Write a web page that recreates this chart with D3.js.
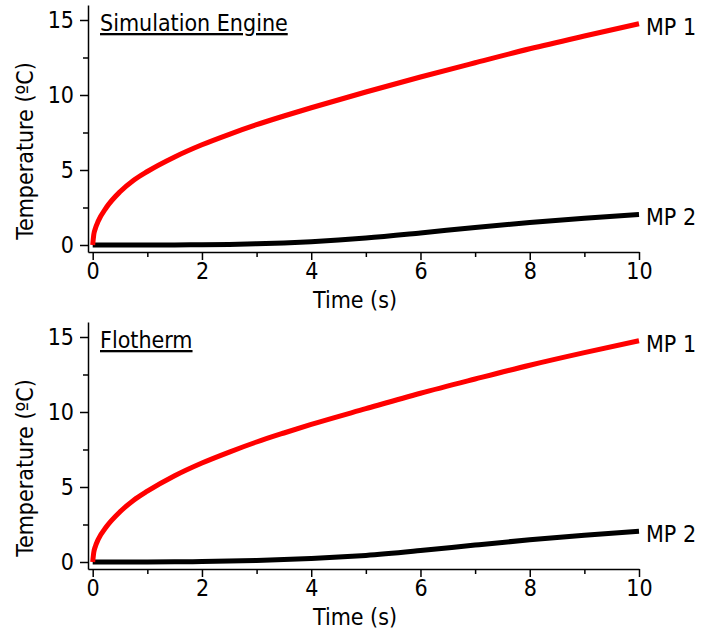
<!DOCTYPE html>
<html>
<head>
<meta charset="utf-8">
<script src="https://cdn.jsdelivr.net/npm/d3@7"></script>
<style>
  html, body { margin: 0; padding: 0; background: #fff; }
  svg text { font-family: "DejaVu Sans Condensed", "DejaVu Sans", sans-serif; font-stretch: condensed; fill: #000; }
</style>
</head>
<body>
<svg id="chart" width="701" height="633"></svg>
<script>
// Time samples (s) and temperature rise (ºC) at the two monitor points
const timeMp1 = [0, 0.02, 0.05, 0.1, 0.25, 0.5, 0.75, 1, 1.5, 2, 2.5, 3, 3.5, 4, 5, 6, 7, 8, 9, 10];
const mp1Top  = [0, 0.7, 1.12, 1.58, 2.5, 3.55, 4.32, 4.9, 5.87, 6.68, 7.38, 8.02, 8.6, 9.15, 10.2, 11.2, 12.15, 13.08, 13.93, 14.75];
const mp1Bottom = [0, 0.65, 1.05, 1.5, 2.35, 3.35, 4.12, 4.72, 5.75, 6.6, 7.33, 8.0, 8.6, 9.17, 10.22, 11.25, 12.2, 13.12, 13.96, 14.75];

const timeMp2 = [0, 1, 1.5, 2, 2.5, 3, 3.5, 4, 4.5, 5, 6, 7, 8, 9, 10];
const mp2Top  = [0, 0, 0.005, 0.015, 0.04, 0.08, 0.14, 0.22, 0.33, 0.46, 0.8, 1.17, 1.5, 1.79, 2.04];
const mp2Bottom = [0, 0.005, 0.015, 0.03, 0.06, 0.1, 0.16, 0.24, 0.33, 0.44, 0.76, 1.13, 1.48, 1.78, 2.05];

const panelTitles = ["Simulation Engine", "Flotherm"];
const seriesNames = ["MP 1", "MP 2"];
const xMajorTicks = [0, 2, 4, 6, 8, 10];
const xMinorTicks = [1, 3, 5, 7, 9];
const yMajorTicks = [0, 5, 10, 15];
const yMinorTicks = [2.5, 7.5, 12.5];

const panels = [
  { title: panelTitles[0], mp1: mp1Top, mp2: mp2Top, top: 5 },
  { title: panelTitles[1], mp1: mp1Bottom, mp2: mp2Bottom, top: 322 }
];

const svg = d3.select("#chart");
const plotLeft = 88, plotRight = 639, plotHeight = 247;
const fontSize = 23;

const x = d3.scaleLinear().domain([-0.086, 10]).range([plotLeft, plotRight]);

panels.forEach(p => {
  const y = d3.scaleLinear().domain([-0.467, 16]).range([p.top + plotHeight, p.top]);
  const g = svg.append("g");
  const bottom = p.top + plotHeight;

  // x axis: major + minor ticks
  g.append("g").attr("transform", `translate(0,${bottom})`)
    .call(d3.axisBottom(x).tickValues(xMajorTicks).tickSize(8).tickSizeOuter(0).tickPadding(3).tickFormat(d3.format("d")));
  g.append("g").attr("transform", `translate(0,${bottom})`)
    .call(d3.axisBottom(x).tickValues(xMinorTicks).tickSize(5).tickFormat(""))
    .select(".domain").remove();

  // y axis: major + minor ticks
  g.append("g").attr("transform", `translate(${plotLeft},0)`)
    .call(d3.axisLeft(y).tickValues(yMajorTicks).tickSize(8).tickSizeOuter(0).tickPadding(6).tickFormat(d3.format("d")));
  g.append("g").attr("transform", `translate(${plotLeft},0)`)
    .call(d3.axisLeft(y).tickValues(yMinorTicks).tickSize(5).tickFormat(""))
    .select(".domain").remove();

  g.selectAll(".domain, .tick line").attr("stroke", "#000").attr("stroke-width", 1.5);
  g.selectAll(".tick text")
    .style("font-family", '"DejaVu Sans Condensed", "DejaVu Sans", sans-serif')
    .style("font-stretch", "condensed")
    .attr("font-size", fontSize).attr("fill", "#000");

  // curves
  const line = d3.line().x(d => x(d[0])).y(d => y(d[1])).curve(d3.curveMonotoneX);
  const mp1 = timeMp1.map((t, i) => [t, p.mp1[i]]);
  const mp2 = timeMp2.map((t, i) => [t, p.mp2[i]]);

  g.append("path").datum(mp2).attr("d", line)
    .attr("fill", "none").attr("stroke", "#000").attr("stroke-width", 5);
  g.append("path").datum(mp1).attr("d", line)
    .attr("fill", "none").attr("stroke", "#ff0000").attr("stroke-width", 5);

  // end labels
  const ends = [[mp1[mp1.length - 1], seriesNames[0]], [mp2[mp2.length - 1], seriesNames[1]]];
  ends.forEach(([pt, name]) => {
    g.append("text").attr("x", x(pt[0]) + 7).attr("y", y(pt[1]) + 11)
      .attr("font-size", fontSize).text(name);
  });

  // panel title
  g.append("text").attr("x", 100).attr("y", p.top + 26)
    .attr("font-size", fontSize)
    .style("text-decoration", "underline")
    .text(p.title);

  // axis titles
  g.append("text").attr("x", 355).attr("y", bottom + 56)
    .attr("text-anchor", "middle").attr("font-size", fontSize).text("Time (s)");
  g.append("text")
    .attr("transform", `translate(33,${p.top + 146}) rotate(-90)`)
    .attr("text-anchor", "middle").attr("font-size", fontSize).text("Temperature (ºC)");
});
</script>
</body>
</html>
